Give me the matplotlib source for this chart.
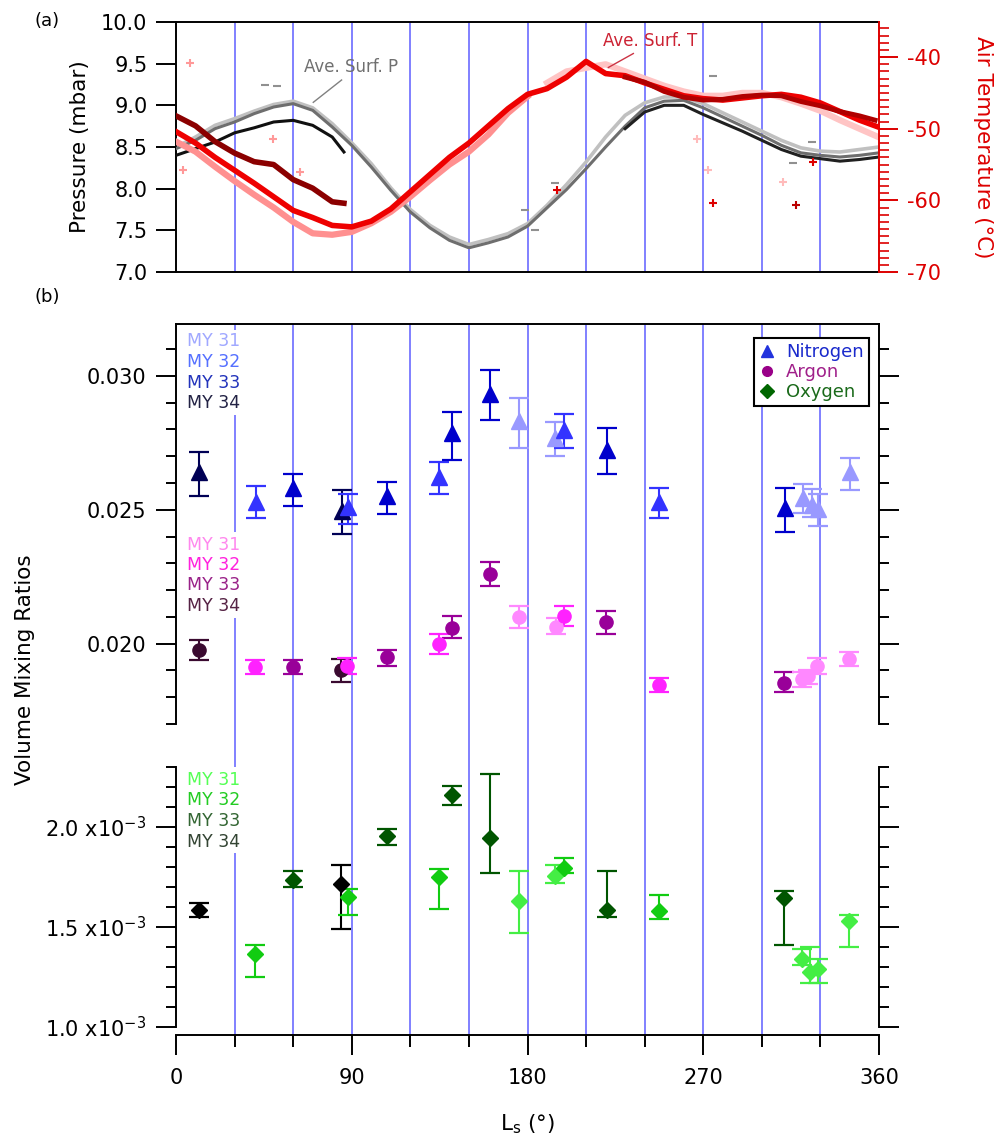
import numpy as np
import matplotlib
matplotlib.use('Agg')
from matplotlib import pyplot as plt
from matplotlib.ticker import MultipleLocator, FuncFormatter
from matplotlib.lines import Line2D
from matplotlib.patches import Rectangle

W, H = 1001, 1140

# ---- panel (a): surface pressure and air temperature vs Ls ----
p_ls = [0, 10, 20, 30, 40, 50, 60, 70, 80, 90, 100, 110, 120, 130, 140, 150, 160, 170, 180,
        190, 200, 210, 220, 230, 240, 250, 260, 270, 280, 290, 300, 310, 320, 330, 340, 350, 360]
p_light = [8.50, 8.62, 8.76, 8.84, 8.93, 9.01, 9.05, 8.97, 8.78, 8.55, 8.30, 8.01, 7.75, 7.56, 7.42, 7.33, 7.39, 7.46, 7.58,
           7.80, 8.05, 8.32, 8.62, 8.88, 9.03, 9.10, 9.10, 9.02, 8.91, 8.80, 8.69, 8.58, 8.49, 8.45, 8.44, 8.47, 8.50]
p_gray = [8.48, 8.58, 8.72, 8.80, 8.90, 8.98, 9.02, 8.94, 8.74, 8.52, 8.26, 7.98, 7.72, 7.53, 7.38, 7.29, 7.35, 7.42, 7.55,
          7.77, 7.99, 8.24, 8.50, 8.75, 8.97, 9.05, 9.06, 8.97, 8.86, 8.75, 8.64, 8.52, 8.43, 8.40, 8.38, 8.40, 8.43]
pb1_ls = [0, 10, 20, 30, 40, 50, 60, 70, 80, 86]
p_black1 = [8.40, 8.48, 8.56, 8.67, 8.73, 8.80, 8.82, 8.76, 8.62, 8.44]
pb2_ls = [230, 240, 250, 260, 270, 280, 290, 300, 310, 320, 330, 340, 350, 360]
p_black2 = [8.72, 8.92, 9.00, 9.00, 8.89, 8.79, 8.69, 8.58, 8.47, 8.39, 8.36, 8.33, 8.35, 8.38]
p_out_ls = [45.6, 51.5, 178.7, 183.8, 194.0, 275.0, 316.0, 325.5]
p_out = [9.24, 9.23, 7.74, 7.50, 8.07, 9.35, 8.31, 8.56]

t_ls = p_ls
t_red = [-50.4, -52.0, -54.0, -55.8, -57.6, -59.5, -61.4, -62.4, -63.5, -63.7, -62.9, -61.2, -58.8, -56.4, -54.0, -52.0, -49.6, -47.2, -45.2,
         -44.4, -42.8, -40.6, -42.3, -42.6, -43.6, -44.5, -45.4, -45.8, -46.0, -45.7, -45.4, -45.2, -45.6, -46.4, -47.6, -48.8, -49.8]
td1_ls = [0, 10, 20, 30, 40, 50, 60, 70, 80, 86]
t_dark1 = [-48.2, -49.6, -51.8, -53.4, -54.6, -55.0, -57.1, -58.3, -60.2, -60.4]
td2_ls = [230, 240, 250, 260, 270, 280, 290, 300, 310, 320, 330, 340, 350, 358]
t_dark2 = [-42.8, -43.5, -44.8, -45.6, -46.0, -45.9, -45.5, -45.3, -45.4, -46.2, -46.8, -47.6, -48.2, -48.8]
tp1_ls = [0, 10, 20, 30, 40, 50, 60, 70, 80, 90, 100, 110, 120, 130, 140, 150, 160, 170, 180]
t_pink1 = [-51.8, -53.2, -55.3, -57.3, -59.2, -61.0, -63.0, -64.6, -64.8, -64.4, -63.2, -61.6, -59.5, -57.2, -55.0, -53.2, -50.8, -47.8, -45.5]
tp2_ls = [190, 200, 210, 220, 230, 240, 250, 260, 270, 280, 290, 300, 310, 320, 330, 340, 350, 360]
t_pink2 = [-43.6, -42.0, -41.5, -41.0, -42.0, -43.0, -44.0, -44.8, -45.4, -45.4, -45.0, -45.0, -45.6, -46.5, -47.5, -48.8, -50.0, -51.2]
t_out_ls = [7.2, 3.4, 49.5, 63.5, 195.0, 275.0, 317.5, 326.0, 272.5, 310.8, 267.0]
t_out = [-40.8, -55.7, -51.4, -56.1, -58.5, -60.4, -60.6, -54.6, -55.7, -57.4, -51.5]
t_out_c = ['#ff9999', '#ff9999', '#ff9999', '#ff9999', '#dd0000', '#dd0000', '#bb0000', '#dd0000', '#ffbbbb', '#ffbbbb', '#ffbbbb']

# ---- panel (b): volume mixing ratios ----
n_ls = [11.8, 40.8, 60.1, 84.8, 88.2, 108.2, 134.5, 141.2, 160.8, 175.8, 194.0, 198.8, 220.5, 247.5, 311.8, 321.2, 325.5, 328.9, 345.0]
n_val = [0.02643, 0.02531, 0.02581, 0.02494, 0.02512, 0.02550, 0.02621, 0.02786, 0.02933, 0.02830, 0.02768, 0.02799, 0.02724, 0.02529, 0.02506, 0.02544, 0.02519, 0.02503, 0.02643]
n_hi = [0.02715, 0.02590, 0.02633, 0.02575, 0.02559, 0.02603, 0.02678, 0.02865, 0.03022, 0.02918, 0.02827, 0.02857, 0.02805, 0.02581, 0.02581, 0.02596, 0.02577, 0.02559, 0.02693]
n_lo = [0.02550, 0.02469, 0.02514, 0.02409, 0.02447, 0.02484, 0.02559, 0.02686, 0.02835, 0.02729, 0.02701, 0.02729, 0.02633, 0.02469, 0.02417, 0.02488, 0.02475, 0.02440, 0.02575]
n_my = [34, 32, 33, 34, 32, 33, 32, 33, 33, 31, 31, 32, 33, 32, 33, 31, 31, 31, 31]

a_ls = [11.8, 40.4, 60.1, 84.5, 87.4, 108.2, 134.8, 141.2, 160.8, 175.6, 194.4, 198.8, 220.2, 247.5, 311.5, 320.4, 323.8, 328.4, 344.8]
a_val = [0.01978, 0.01913, 0.01913, 0.01900, 0.01918, 0.01949, 0.02000, 0.02059, 0.02260, 0.02100, 0.02062, 0.02102, 0.02080, 0.01844, 0.01853, 0.01868, 0.01878, 0.01918, 0.01944]
a_hi = [0.02015, 0.01938, 0.01938, 0.01943, 0.01947, 0.01978, 0.02036, 0.02104, 0.02305, 0.02142, 0.02096, 0.02142, 0.02121, 0.01872, 0.01894, 0.01894, 0.01900, 0.01947, 0.01969]
a_lo = [0.01938, 0.01887, 0.01887, 0.01856, 0.01886, 0.01917, 0.01962, 0.02021, 0.02214, 0.02059, 0.02036, 0.02067, 0.02036, 0.01820, 0.01820, 0.01840, 0.01850, 0.01887, 0.01918]
a_my = [34, 32, 33, 34, 32, 33, 32, 33, 33, 31, 31, 32, 33, 32, 33, 31, 31, 31, 31]

o_ls = [11.8, 40.4, 60.1, 84.5, 88.0, 108.2, 134.5, 141.2, 160.8, 175.6, 194.2, 198.6, 220.5, 247.5, 311.5, 320.4, 324.7, 329.0, 344.8]
o_val = [1.587, 1.367, 1.736, 1.715, 1.648, 1.955, 1.748, 2.159, 1.947, 1.632, 1.756, 1.795, 1.587, 1.582, 1.643, 1.342, 1.275, 1.292, 1.532]
o_hi = [1.620, 1.411, 1.778, 1.809, 1.688, 1.990, 1.790, 2.207, 2.267, 1.778, 1.809, 1.847, 1.778, 1.660, 1.678, 1.392, 1.400, 1.342, 1.561]
o_lo = [1.552, 1.250, 1.698, 1.489, 1.561, 1.909, 1.589, 2.108, 1.770, 1.471, 1.720, 1.770, 1.549, 1.541, 1.411, 1.312, 1.222, 1.222, 1.400]
o_my = [34, 32, 33, 34, 32, 33, 32, 33, 33, 31, 31, 32, 33, 32, 33, 31, 31, 31, 31]
o_scale = 1e-3

years = [31, 32, 33, 34]
n_col = {31: '#9999ff', 32: '#3333ff', 33: '#0000cc', 34: '#000055'}
a_col = {31: '#ff88ff', 32: '#ff22ff', 33: '#990099', 34: '#3a0a30'}
o_col = {31: '#44ee44', 32: '#11cc11', 33: '#005500', 34: '#000000'}
n_lab = {31: '#a0a8ff', 32: '#5570ff', 33: '#2233bb', 34: '#222244'}
a_lab = {31: '#ff88ee', 32: '#ff22dd', 33: '#992288', 34: '#552244'}
o_lab = {31: '#55ff55', 32: '#22cc22', 33: '#336633', 34: '#334433'}

season_lines = [30, 60, 90, 120, 150, 180, 210, 240, 270, 300, 330]
blue = '#6b6bff'
red = '#dd0000'

plt.rcParams['font.family'] = ['DejaVu Sans']
plt.rcParams['axes.unicode_minus'] = False
TS = 15


def box(x0, y0, x1, y1):
    return [x0 / W, 1 - y1 / H, (x1 - x0) / W, (y1 - y0) / H]


fig = plt.figure(figsize=(W / 100, H / 100), dpi=100)

# ---------------- panel (a) ----------------
ax_p = fig.add_axes(box(176, 22, 879, 272))
ax_t = ax_p.twinx()

for s in season_lines:
    ax_p.axvline(s, color=blue, lw=1.2, zorder=1)

ax_p.plot(p_ls, p_light, color='#c0c0c0', lw=2.6, zorder=2)
ax_p.plot(p_ls, p_gray, color='#6e6e6e', lw=2.2, zorder=3)
ax_p.plot(pb1_ls, p_black1, color='#101010', lw=2.2, zorder=4)
ax_p.plot(pb2_ls, p_black2, color='#202020', lw=2.2, zorder=4)
ax_p.plot(p_out_ls, p_out, ls='none', marker='_', ms=6, mew=1.5, color='#909090', zorder=4)
ax_p.set_xlim(0, 360)
ax_p.set_ylim(7.0, 10.0)
ax_p.yaxis.set_major_locator(MultipleLocator(0.5))
ax_p.yaxis.set_major_formatter(FuncFormatter(lambda v, p: f'{v:.1f}'))
ax_p.tick_params(axis='y', direction='out', length=14.5, width=1.4, pad=6, labelsize=TS)
ax_p.tick_params(axis='x', bottom=False, labelbottom=False)
ax_p.set_ylabel('Pressure (mbar)', fontsize=15.5, labelpad=8)
for sp in ['left', 'top', 'bottom']:
    ax_p.spines[sp].set_linewidth(1.4)
ax_p.spines['right'].set_visible(False)

ax_t.plot(tp1_ls, t_pink1, color='#ff9090', lw=4.5, zorder=2)
ax_t.plot(tp2_ls, t_pink2, color='#ffc4c4', lw=4.5, zorder=2)
ax_t.plot(t_ls, t_red, color='#ee0000', lw=4.0, zorder=3)
ax_t.plot(td1_ls, t_dark1, color='#8b0000', lw=4.0, zorder=4)
ax_t.plot(td2_ls, t_dark2, color='#b00000', lw=3.5, zorder=4)
for x, y, c in zip(t_out_ls, t_out, t_out_c):
    ax_t.plot([x], [y], ls='none', marker='+', ms=6, mew=1.5, color=c, zorder=4)
ax_t.set_ylim(-70, -35.1)
ax_t.yaxis.set_major_locator(MultipleLocator(10))
ax_t.yaxis.set_minor_locator(MultipleLocator(1))
ax_t.tick_params(axis='y', which='major', direction='out', length=13.5, width=1.4, pad=7,
                 colors=red, labelsize=TS)
ax_t.tick_params(axis='y', which='minor', direction='out', length=7, width=1.2, colors=red)
ax_t.spines['right'].set_color(red)
ax_t.spines['right'].set_linewidth(1.4)
for sp in ['left', 'top', 'bottom']:
    ax_t.spines[sp].set_visible(False)
ax_t.set_ylabel('Air Temperature (°C)', fontsize=15.5, color=red, rotation=-90, labelpad=37)

ax_p.text(89.9, 9.454, 'Ave. Surf. P', fontsize=12, color='#707070', ha='center', va='center', zorder=6)
ax_p.plot([84.8, 70.3], [9.304, 9.036], color='#808080', lw=1.0, zorder=6)
ax_t.text(242.7, -37.7, 'Ave. Surf. T', fontsize=12, color='#cc2233', ha='center', va='center', zorder=6)
ax_t.plot([234.2, 221.4], [-39.5, -41.45], color='#cc3344', lw=1.0, zorder=6)

# ---------------- panel (b) ----------------
ax_bg = fig.add_axes(box(176, 324, 879, 1035))
ax_bg.set_xlim(0, 360)
ax_bg.axis('off')
for s in season_lines:
    ax_bg.axvline(s, color=blue, lw=1.2)

ax_u = fig.add_axes(box(176, 324, 879, 724))
ax_l = fig.add_axes(box(176, 767, 879, 1035))
for ax in (ax_u, ax_l):
    ax.set_facecolor('none')
    ax.set_xlim(0, 360)
    for sp in ax.spines.values():
        sp.set_linewidth(1.4)

ax_u.set_ylim(0.017, 0.03194)
ax_u.spines['bottom'].set_visible(False)
ax_u.yaxis.set_major_locator(MultipleLocator(0.005))
ax_u.yaxis.set_minor_locator(MultipleLocator(0.001))
ax_u.yaxis.set_major_formatter(FuncFormatter(lambda v, p: f'{v:.3f}'))
ax_u.tick_params(axis='x', bottom=False, labelbottom=False)

ax_l.set_ylim(0.9602 * o_scale, 2.3 * o_scale)
ax_l.spines['top'].set_visible(False)
ax_l.spines['left'].set_bounds(1.0 * o_scale, 2.3 * o_scale)
ax_l.spines['right'].set_bounds(1.0 * o_scale, 2.3 * o_scale)
ax_l.yaxis.set_major_locator(MultipleLocator(0.5 * o_scale))
ax_l.yaxis.set_minor_locator(MultipleLocator(0.1 * o_scale))
ax_l.yaxis.set_major_formatter(FuncFormatter(
    lambda v, p: f'{v / o_scale:.1f} x10$^{{\\mathregular{{-3}}}}$' if v >= 0.99 * o_scale else ''))
ax_l.xaxis.set_major_locator(MultipleLocator(90))
ax_l.xaxis.set_minor_locator(MultipleLocator(30))
ax_l.tick_params(axis='x', which='major', direction='out', length=14.5, width=1.4, pad=9, labelsize=TS)
ax_l.tick_params(axis='x', which='minor', direction='out', length=8.5, width=1.4)
ax_l.set_xlabel('L$_\\mathregular{s}$ (°)', fontsize=15.5, labelpad=18)

for ax in (ax_u, ax_l):
    ax.tick_params(axis='y', which='major', direction='out', left=True, right=True,
                   labelright=False, length=14.5, width=1.4, pad=7, labelsize=TS)
    ax.tick_params(axis='y', which='minor', direction='out', left=True, right=True,
                   length=7.5, width=1.4)

fig.text(25 / W, 1 - 670 / H, 'Volume Mixing Ratios', fontsize=15.5, rotation=90,
         ha='center', va='center')


def draw_points(ax, ls, val, lo, hi, my, cols, marker, ms, scale=1.0):
    for x, v, l, h, y in zip(ls, val, lo, hi, my):
        ax.errorbar([x], [v * scale], yerr=[[(v - l) * scale], [(h - v) * scale]],
                    fmt=marker, color=cols[y], mec=cols[y], ms=ms, capsize=7.5,
                    elinewidth=1.5, capthick=1.6, zorder=5)


draw_points(ax_u, n_ls, n_val, n_lo, n_hi, n_my, n_col, '^', 11)
draw_points(ax_u, a_ls, a_val, a_lo, a_hi, a_my, a_col, 'o', 9.5)
draw_points(ax_l, o_ls, o_val, o_lo, o_hi, o_my, o_col, 'D', 8.5, o_scale)

# year labels, on white boxes that break the Ls = 30 line
label_x = 5.6
n_lab_y = [0.03132, 0.03052, 0.02974, 0.02899]
a_lab_y = [0.02369, 0.02295, 0.02220, 0.02142]
o_lab_y = [2.234, 2.134, 2.030, 1.925]
ax_u.add_patch(Rectangle((3, 0.02854), 33, 0.03172 - 0.02854, fc='white', ec='none', zorder=2))
ax_u.add_patch(Rectangle((3, 0.02097), 33, 0.02418 - 0.02097, fc='white', ec='none', zorder=2))
ax_l.add_patch(Rectangle((3, 1.871 * o_scale), 33, (2.3 - 1.871) * o_scale, fc='white', ec='none', zorder=2))
for i, y in enumerate(years):
    ax_u.text(label_x, n_lab_y[i], f'MY {y}', color=n_lab[y], fontsize=12.5, va='center', zorder=3)
    ax_u.text(label_x, a_lab_y[i], f'MY {y}', color=a_lab[y], fontsize=12.5, va='center', zorder=3)
    ax_l.text(label_x, o_lab_y[i] * o_scale, f'MY {y}', color=o_lab[y], fontsize=12.5, va='center', zorder=3)

handles = [Line2D([], [], ls='none', marker='^', color='#2233dd', ms=9),
           Line2D([], [], ls='none', marker='o', color='#990088', ms=7),
           Line2D([], [], ls='none', marker='D', color='#006600', ms=7)]
leg = ax_u.legend(handles, ['Nitrogen', 'Argon', 'Oxygen'], loc='upper right',
                  bbox_to_anchor=(0.986, 0.965), frameon=True, fancybox=False,
                  edgecolor='black', framealpha=1, fontsize=13, handlelength=0.9,
                  handletextpad=0.6, borderpad=0.3, labelspacing=0.1, borderaxespad=0)
leg.get_frame().set_linewidth(1.5)
for txt, c in zip(leg.get_texts(), ['#1a2acc', '#a0208a', '#1a6a1a']):
    txt.set_color(c)
leg.set_zorder(10)

fig.text(47 / W, 1 - 21 / H, '(a)', fontsize=13, ha='center', va='center')
fig.text(47 / W, 1 - 297 / H, '(b)', fontsize=13, ha='center', va='center')

fig.savefig('out.png', dpi=100)
